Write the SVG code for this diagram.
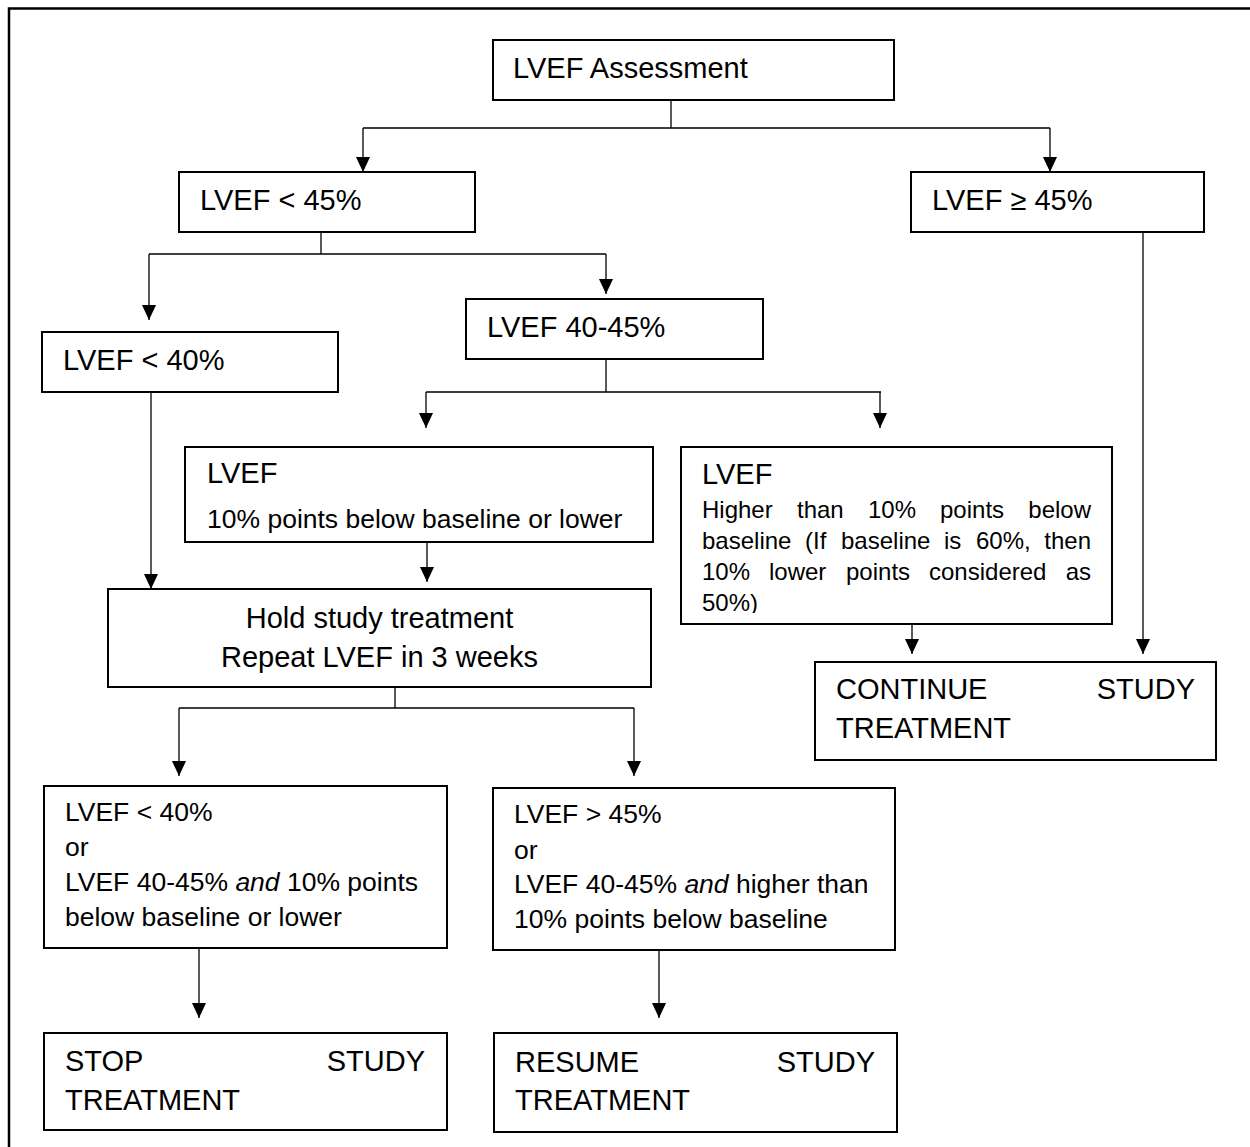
<svg xmlns="http://www.w3.org/2000/svg" width="1250" height="1147" viewBox="0 0 1250 1147">
<style>
.box{fill:#fff;stroke:#000;stroke-width:2}
.ln{fill:none;stroke:#000;stroke-width:1.3}
.t{font-family:"Liberation Sans",Arial,sans-serif;font-size:29px;fill:#000}
.s{font-family:"Liberation Sans",Arial,sans-serif;font-size:26.5px;fill:#000}
.xs{font-family:"Liberation Sans",Arial,sans-serif;font-size:24px;fill:#000}
</style>
<defs>
<marker id="ah" markerUnits="userSpaceOnUse" markerWidth="15" markerHeight="14" refX="15" refY="7" orient="auto">
<path d="M0,0 L15,7 L0,14 z" fill="#000"/>
</marker>
<clipPath id="clipR"><rect x="681" y="447" width="431" height="166"/></clipPath>
</defs>
<rect width="1250" height="1147" fill="#fff"/>
<rect x="9" y="8.5" width="1300" height="1200" fill="none" stroke="#000" stroke-width="2.5"/>

<g id="connectors">
<path class="ln" d="M671,100 V128 M363,128 H1050"/>
<line class="ln" x1="363" y1="128" x2="363" y2="172" marker-end="url(#ah)"/>
<line class="ln" x1="1050" y1="128" x2="1050" y2="172" marker-end="url(#ah)"/>
<path class="ln" d="M321,232 V254 M149,254 H606"/>
<line class="ln" x1="149" y1="254" x2="149" y2="320" marker-end="url(#ah)"/>
<line class="ln" x1="606" y1="254" x2="606" y2="294" marker-end="url(#ah)"/>
<line class="ln" x1="1143" y1="232" x2="1143" y2="654" marker-end="url(#ah)"/>
<line class="ln" x1="151" y1="392" x2="151" y2="589" marker-end="url(#ah)"/>
<path class="ln" d="M606,359 V392 M426,392 H881"/>
<line class="ln" x1="426" y1="392" x2="426" y2="428" marker-end="url(#ah)"/>
<line class="ln" x1="880" y1="392" x2="880" y2="428" marker-end="url(#ah)"/>
<line class="ln" x1="427" y1="542" x2="427" y2="582" marker-end="url(#ah)"/>
<line class="ln" x1="912" y1="624" x2="912" y2="654" marker-end="url(#ah)"/>
<path class="ln" d="M395,687 V708 M179,708 H634"/>
<line class="ln" x1="179" y1="708" x2="179" y2="776" marker-end="url(#ah)"/>
<line class="ln" x1="634" y1="708" x2="634" y2="776" marker-end="url(#ah)"/>
<line class="ln" x1="199" y1="948" x2="199" y2="1018" marker-end="url(#ah)"/>
<line class="ln" x1="659" y1="950" x2="659" y2="1018" marker-end="url(#ah)"/>
</g>

<g id="n-assessment">
<rect class="box" x="493" y="40" width="401" height="60"/>
<text class="t" x="513" y="78">LVEF Assessment</text>
</g>
<g id="n-lt45">
<rect class="box" x="179" y="172" width="296" height="60"/>
<text class="t" x="200" y="210">LVEF &lt; 45%</text>
</g>
<g id="n-ge45">
<rect class="box" x="911" y="172" width="293" height="60"/>
<text class="t" x="932" y="210">LVEF ≥ 45%</text>
</g>
<g id="n-lt40">
<rect class="box" x="42" y="332" width="296" height="60"/>
<text class="t" x="63" y="370">LVEF &lt; 40%</text>
</g>
<g id="n-40-45">
<rect class="box" x="466" y="299" width="297" height="60"/>
<text class="t" x="487" y="337">LVEF 40-45%</text>
</g>
<g id="n-below">
<rect class="box" x="185" y="447" width="468" height="95"/>
<text class="t" x="207" y="483">LVEF</text>
<text class="s" x="207" y="528">10% points below baseline or lower</text>
</g>
<g id="n-higher">
<rect class="box" x="681" y="447" width="431" height="177"/>
<text class="t" x="702" y="484">LVEF</text>
<g class="xs">
<text x="702" y="518">Higher</text><text x="797" y="518">than</text><text x="868" y="518">10%</text><text x="940" y="518">points</text><text x="1091" y="518" text-anchor="end">below</text>
<text x="702" y="549">baseline</text><text x="805" y="549">(If</text><text x="841" y="549">baseline</text><text x="944" y="549">is</text><text x="976" y="549">60%,</text><text x="1091" y="549" text-anchor="end">then</text>
<text x="702" y="580">10%</text><text x="769" y="580">lower</text><text x="846" y="580">points</text><text x="929" y="580">considered</text><text x="1091" y="580" text-anchor="end">as</text>
<text x="702" y="611" clip-path="url(#clipR)">50%)</text>
</g>
</g>
<g id="n-hold">
<rect class="box" x="108" y="589" width="543" height="98"/>
<text class="t" x="379.5" y="628" text-anchor="middle">Hold study treatment</text>
<text class="t" x="379.5" y="667" text-anchor="middle">Repeat LVEF in 3 weeks</text>
</g>
<g id="n-continue">
<rect class="box" x="815" y="662" width="401" height="98"/>
<text class="t" x="836" y="699">CONTINUE</text>
<text class="t" x="1195" y="699" text-anchor="end">STUDY</text>
<text class="t" x="836" y="738">TREATMENT</text>
</g>
<g id="n-stopcrit">
<rect class="box" x="44" y="786" width="403" height="162"/>
<text class="s" x="65" y="821">LVEF &lt; 40%</text>
<text class="s" x="65" y="856">or</text>
<text class="s" x="65" y="891">LVEF 40-45% <tspan font-style="italic">and</tspan> 10% points</text>
<text class="s" x="65" y="926">below baseline or lower</text>
</g>
<g id="n-resumecrit">
<rect class="box" x="493" y="788" width="402" height="162"/>
<text class="s" x="514" y="823">LVEF &gt; 45%</text>
<text class="s" x="514" y="859">or</text>
<text class="s" x="514" y="893">LVEF 40-45% <tspan font-style="italic">and</tspan> higher than</text>
<text class="s" x="514" y="928">10% points below baseline</text>
</g>
<g id="n-stop">
<rect class="box" x="44" y="1033" width="403" height="97"/>
<text class="t" x="65" y="1071">STOP</text>
<text class="t" x="425" y="1071" text-anchor="end">STUDY</text>
<text class="t" x="65" y="1110">TREATMENT</text>
</g>
<g id="n-resume">
<rect class="box" x="494" y="1033" width="403" height="99"/>
<text class="t" x="515" y="1072">RESUME</text>
<text class="t" x="875" y="1072" text-anchor="end">STUDY</text>
<text class="t" x="515" y="1110">TREATMENT</text>
</g>
</svg>
